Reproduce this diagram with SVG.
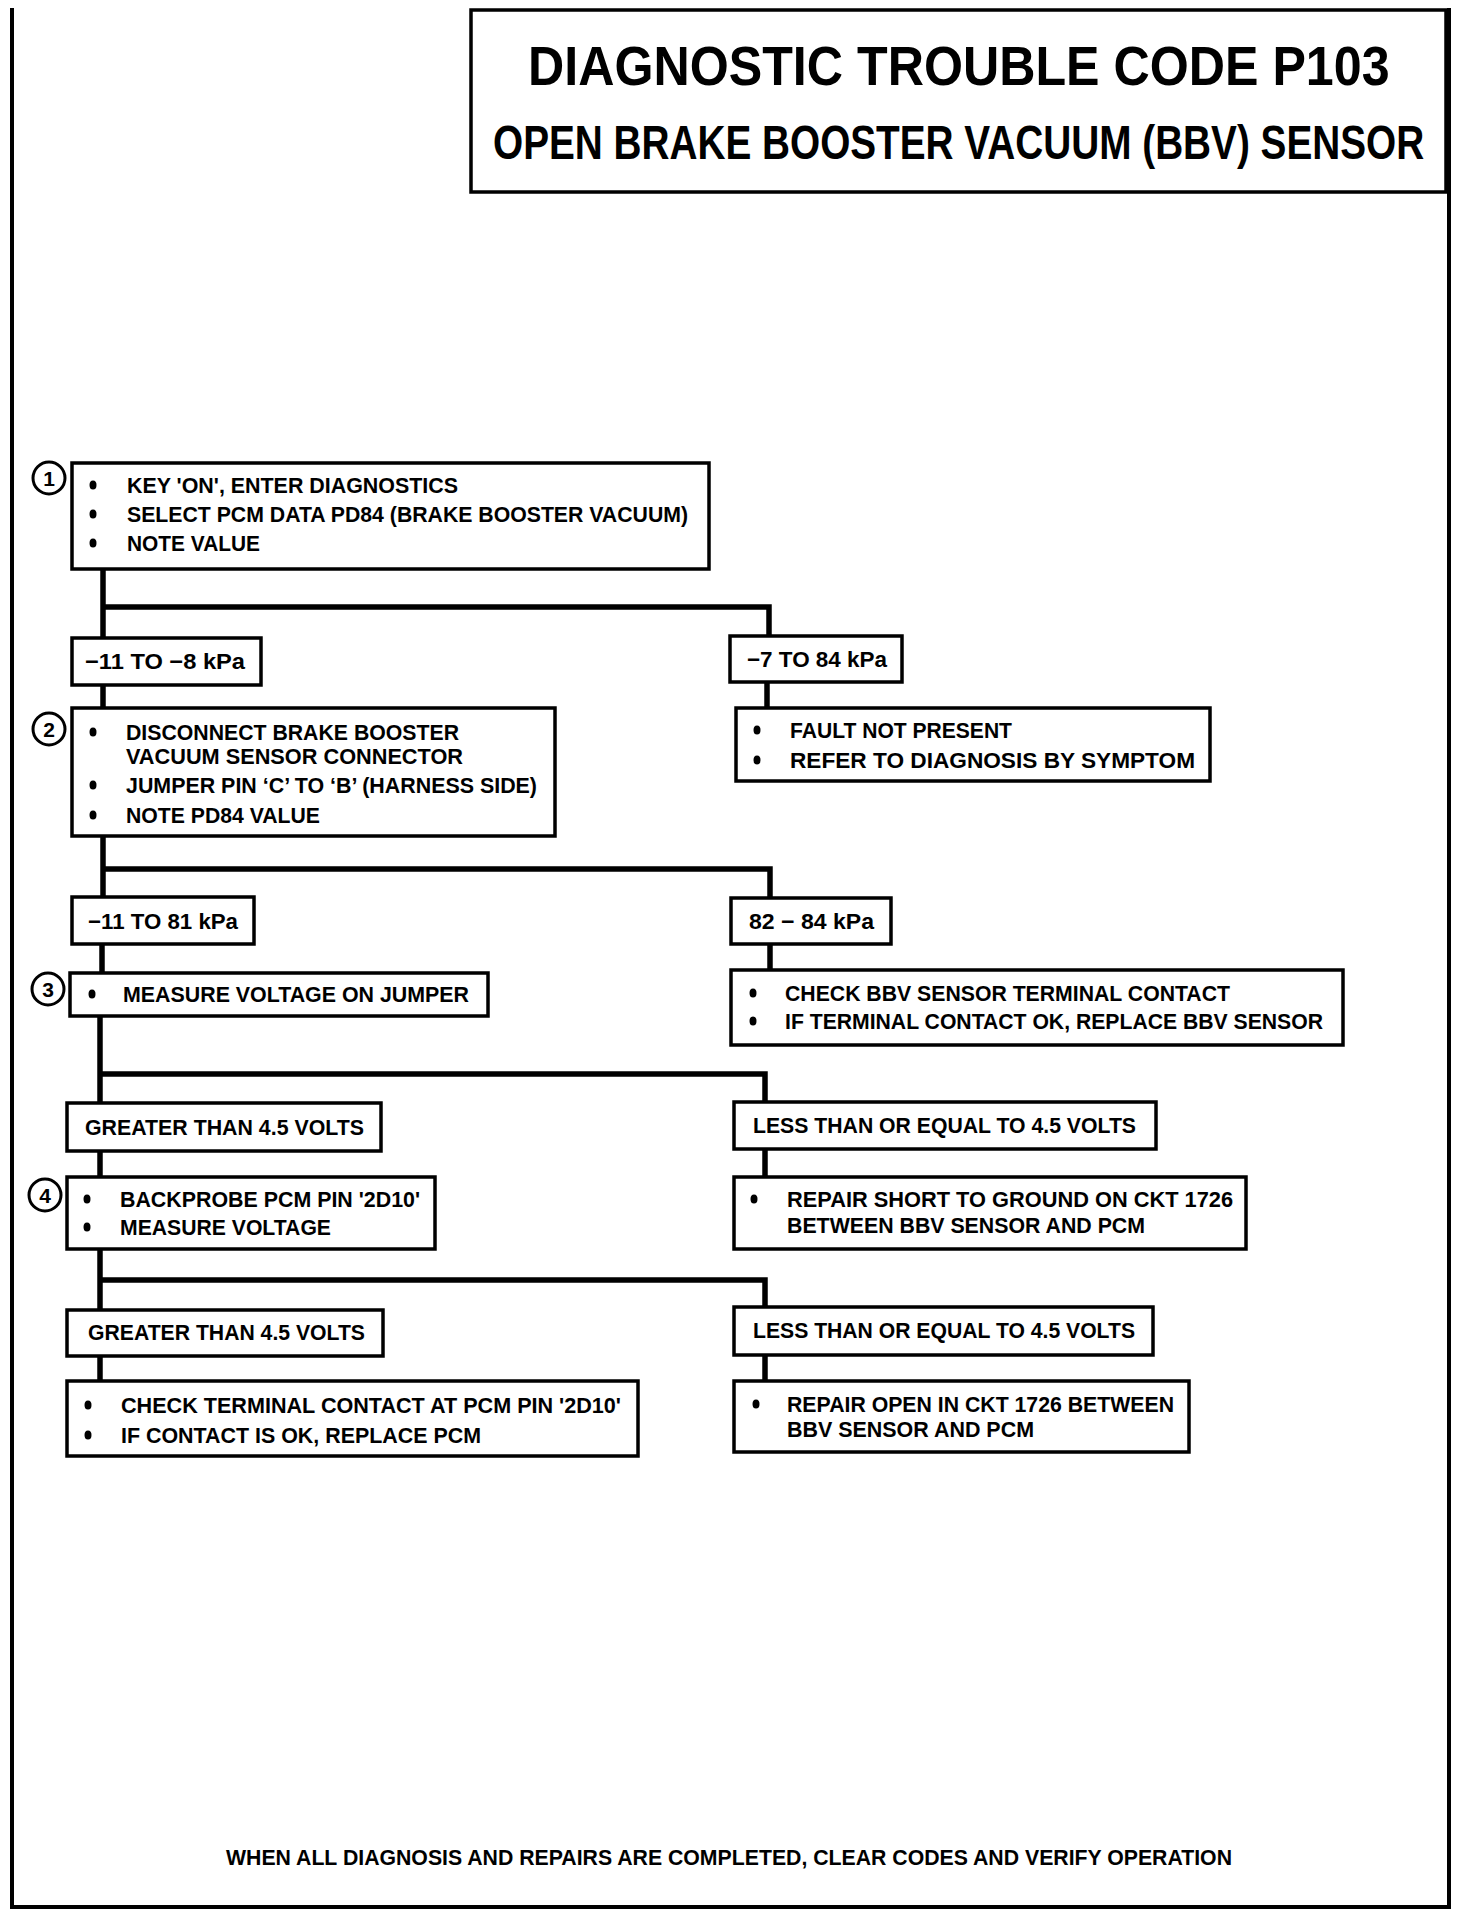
<svg xmlns="http://www.w3.org/2000/svg" width="1472" height="1914" viewBox="0 0 1472 1914">
<style>
.box{fill:#fff;stroke:#000;stroke-width:3.5}
.frame{fill:none;stroke:#000;stroke-width:4}
.con{fill:none;stroke:#000;stroke-width:5.5;stroke-linejoin:miter}
.t{font-family:"Liberation Sans",Arial,sans-serif;font-size:22px;font-weight:bold;fill:#000}
.h1{font-family:"Liberation Sans",Arial,sans-serif;font-size:56px;font-weight:bold;fill:#000}
.h2{font-family:"Liberation Sans",Arial,sans-serif;font-size:48px;font-weight:bold;fill:#000}
.num{font-family:"Liberation Sans",Arial,sans-serif;font-size:21px;font-weight:bold;fill:#000;text-anchor:middle}
.circ{fill:#fff;stroke:#000;stroke-width:3}
.b{fill:#000}
</style>
<rect width="1472" height="1914" fill="#fff"/>
<g id="frame">
<path class="frame" d="M12,8 L12,1907 L1449,1907 L1449,8"/>
</g>
<g id="title">
<rect class="box" x="471" y="10" width="975" height="182"/>
<text class="h1" transform="translate(528,85) scale(0.8,1)" x="0" y="0" textLength="1077" lengthAdjust="spacingAndGlyphs">DIAGNOSTIC TROUBLE CODE P103</text>
<text class="h2" transform="translate(493,159) scale(0.8,1)" x="0" y="0" textLength="1164" lengthAdjust="spacingAndGlyphs">OPEN BRAKE BOOSTER VACUUM (BBV) SENSOR</text>
</g>
<g id="connectors">
<path class="con" d="M103,569 L103,638"/>
<path class="con" d="M103,607 L769,607 L769,636"/>
<path class="con" d="M103,685 L103,708"/>
<path class="con" d="M767,682 L767,708"/>
<path class="con" d="M103,836 L103,897"/>
<path class="con" d="M103,869 L770,869 L770,898"/>
<path class="con" d="M102,944 L102,973"/>
<path class="con" d="M770,944 L770,970"/>
<path class="con" d="M100,1016 L100,1103"/>
<path class="con" d="M100,1074 L765,1074 L765,1102"/>
<path class="con" d="M100,1151 L100,1177"/>
<path class="con" d="M765,1149 L765,1177"/>
<path class="con" d="M100,1249 L100,1310"/>
<path class="con" d="M100,1280 L765,1280 L765,1307"/>
<path class="con" d="M100,1356 L100,1381"/>
<path class="con" d="M765,1355 L765,1381"/>
</g>
<g id="step1">
<circle class="circ" cx="49" cy="478" r="16"/>
<text class="num" x="49" y="486">1</text>
<rect class="box" x="72" y="463" width="637" height="106"/>
<ellipse class="b" cx="93" cy="485" rx="3.5" ry="4.5"/>
<ellipse class="b" cx="93" cy="514" rx="3.5" ry="4.5"/>
<ellipse class="b" cx="93" cy="543" rx="3.5" ry="4.5"/>
<text class="t" x="127" y="493" textLength="331" lengthAdjust="spacingAndGlyphs">KEY 'ON', ENTER DIAGNOSTICS</text>
<text class="t" x="127" y="522" textLength="561" lengthAdjust="spacingAndGlyphs">SELECT PCM DATA PD84 (BRAKE BOOSTER VACUUM)</text>
<text class="t" x="127" y="551" textLength="133" lengthAdjust="spacingAndGlyphs">NOTE VALUE</text>
</g>
<g id="labelA">
<rect class="box" x="72" y="638" width="189" height="47"/>
<text class="t" x="85" y="669" textLength="160" lengthAdjust="spacingAndGlyphs">−11 TO −8 kPa</text>
</g>
<g id="labelB">
<rect class="box" x="730" y="636" width="172" height="46"/>
<text class="t" x="747" y="667" textLength="140" lengthAdjust="spacingAndGlyphs">−7 TO 84 kPa</text>
</g>
<g id="step2">
<circle class="circ" cx="49" cy="729" r="16"/>
<text class="num" x="49" y="737">2</text>
<rect class="box" x="72" y="708" width="483" height="128"/>
<ellipse class="b" cx="93" cy="732" rx="3.5" ry="4.5"/>
<ellipse class="b" cx="93" cy="785" rx="3.5" ry="4.5"/>
<ellipse class="b" cx="93" cy="815" rx="3.5" ry="4.5"/>
<text class="t" x="126" y="740" textLength="333" lengthAdjust="spacingAndGlyphs">DISCONNECT BRAKE BOOSTER</text>
<text class="t" x="126" y="764" textLength="337" lengthAdjust="spacingAndGlyphs">VACUUM SENSOR CONNECTOR</text>
<text class="t" x="126" y="793" textLength="411" lengthAdjust="spacingAndGlyphs">JUMPER PIN ‘C’ TO ‘B’ (HARNESS SIDE)</text>
<text class="t" x="126" y="823" textLength="194" lengthAdjust="spacingAndGlyphs">NOTE PD84 VALUE</text>
</g>
<g id="faultNotPresent">
<rect class="box" x="736" y="708" width="474" height="73"/>
<ellipse class="b" cx="757" cy="730" rx="3.5" ry="4.5"/>
<ellipse class="b" cx="757" cy="760" rx="3.5" ry="4.5"/>
<text class="t" x="790" y="738" textLength="222" lengthAdjust="spacingAndGlyphs">FAULT NOT PRESENT</text>
<text class="t" x="790" y="768" textLength="405" lengthAdjust="spacingAndGlyphs">REFER TO  DIAGNOSIS BY SYMPTOM</text>
</g>
<g id="labelC">
<rect class="box" x="72" y="897" width="182" height="47"/>
<text class="t" x="88" y="929" textLength="150" lengthAdjust="spacingAndGlyphs">−11 TO 81 kPa</text>
</g>
<g id="labelD">
<rect class="box" x="731" y="898" width="160" height="46"/>
<text class="t" x="749" y="929" textLength="125" lengthAdjust="spacingAndGlyphs">82 − 84 kPa</text>
</g>
<g id="step3">
<circle class="circ" cx="48" cy="989" r="16"/>
<text class="num" x="48" y="997">3</text>
<rect class="box" x="70" y="973" width="418" height="43"/>
<ellipse class="b" cx="92" cy="994" rx="3.5" ry="4.5"/>
<text class="t" x="123" y="1002" textLength="346" lengthAdjust="spacingAndGlyphs">MEASURE VOLTAGE ON JUMPER</text>
</g>
<g id="checkBBV">
<rect class="box" x="731" y="970" width="612" height="75"/>
<ellipse class="b" cx="753" cy="993" rx="3.5" ry="4.5"/>
<ellipse class="b" cx="753" cy="1021" rx="3.5" ry="4.5"/>
<text class="t" x="785" y="1001" textLength="445" lengthAdjust="spacingAndGlyphs">CHECK BBV SENSOR TERMINAL CONTACT</text>
<text class="t" x="785" y="1029" textLength="538" lengthAdjust="spacingAndGlyphs">IF TERMINAL CONTACT OK, REPLACE BBV SENSOR</text>
</g>
<g id="labelE">
<rect class="box" x="67" y="1103" width="314" height="48"/>
<text class="t" x="85" y="1135" textLength="279" lengthAdjust="spacingAndGlyphs">GREATER THAN 4.5 VOLTS</text>
</g>
<g id="labelF">
<rect class="box" x="734" y="1102" width="422" height="47"/>
<text class="t" x="753" y="1133" textLength="383" lengthAdjust="spacingAndGlyphs">LESS THAN OR EQUAL TO 4.5 VOLTS</text>
</g>
<g id="step4">
<circle class="circ" cx="45" cy="1195" r="16"/>
<text class="num" x="45" y="1203">4</text>
<rect class="box" x="67" y="1177" width="368" height="72"/>
<ellipse class="b" cx="87" cy="1199" rx="3.5" ry="4.5"/>
<ellipse class="b" cx="87" cy="1227" rx="3.5" ry="4.5"/>
<text class="t" x="120" y="1207" textLength="300" lengthAdjust="spacingAndGlyphs">BACKPROBE PCM PIN '2D10'</text>
<text class="t" x="120" y="1235" textLength="211" lengthAdjust="spacingAndGlyphs">MEASURE VOLTAGE</text>
</g>
<g id="repairShort">
<rect class="box" x="734" y="1177" width="512" height="72"/>
<ellipse class="b" cx="754" cy="1199" rx="3.5" ry="4.5"/>
<text class="t" x="787" y="1207" textLength="446" lengthAdjust="spacingAndGlyphs">REPAIR SHORT  TO GROUND ON CKT 1726</text>
<text class="t" x="787" y="1233" textLength="358" lengthAdjust="spacingAndGlyphs">BETWEEN BBV SENSOR AND PCM</text>
</g>
<g id="labelG">
<rect class="box" x="67" y="1310" width="316" height="46"/>
<text class="t" x="88" y="1340" textLength="277" lengthAdjust="spacingAndGlyphs">GREATER THAN 4.5 VOLTS</text>
</g>
<g id="labelH">
<rect class="box" x="734" y="1307" width="419" height="48"/>
<text class="t" x="753" y="1338" textLength="382" lengthAdjust="spacingAndGlyphs">LESS THAN OR EQUAL TO 4.5 VOLTS</text>
</g>
<g id="replacePCM">
<rect class="box" x="67" y="1381" width="571" height="75"/>
<ellipse class="b" cx="88" cy="1405" rx="3.5" ry="4.5"/>
<ellipse class="b" cx="88" cy="1435" rx="3.5" ry="4.5"/>
<text class="t" x="121" y="1413" textLength="500" lengthAdjust="spacingAndGlyphs">CHECK TERMINAL CONTACT AT PCM PIN '2D10'</text>
<text class="t" x="121" y="1443" textLength="360" lengthAdjust="spacingAndGlyphs">IF CONTACT IS OK, REPLACE PCM</text>
</g>
<g id="repairOpen">
<rect class="box" x="734" y="1381" width="455" height="71"/>
<ellipse class="b" cx="756" cy="1404" rx="3.5" ry="4.5"/>
<text class="t" x="787" y="1412" textLength="387" lengthAdjust="spacingAndGlyphs">REPAIR OPEN IN CKT 1726 BETWEEN</text>
<text class="t" x="787" y="1437" textLength="247" lengthAdjust="spacingAndGlyphs">BBV SENSOR AND PCM</text>
</g>
<g id="footer">
<text class="t" x="226" y="1865" textLength="1006" lengthAdjust="spacingAndGlyphs">WHEN ALL DIAGNOSIS AND REPAIRS ARE COMPLETED, CLEAR CODES AND VERIFY OPERATION</text>
</g>
</svg>
